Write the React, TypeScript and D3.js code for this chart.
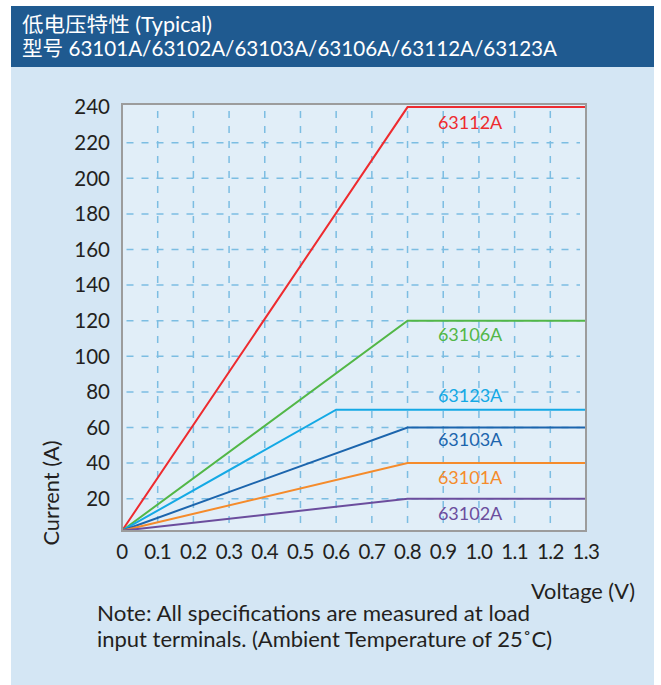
import React from "react";
import * as d3 from "d3";

// ---- Data ----
const titleLine1 = "低电压特性 (Typical)";
const titleLine2 = "型号 63101A/63102A/63103A/63106A/63112A/63123A";
const noteLines = [
  "Note: All specifications are measured at load",
  "input terminals. (Ambient Temperature of 25˚C)",
];
const xTicks = [0, 0.1, 0.2, 0.3, 0.4, 0.5, 0.6, 0.7, 0.8, 0.9, 1.0, 1.1, 1.2, 1.3];
const xTickLabels = ["0", "0.1", "0.2", "0.3", "0.4", "0.5", "0.6", "0.7", "0.8", "0.9", "1.0", "1.1", "1.2", "1.3"];
const yTicks = [20, 40, 60, 80, 100, 120, 140, 160, 180, 200, 220, 240];
const xGrid = [0.1, 0.2, 0.3, 0.4, 0.5, 0.6, 0.7, 0.8, 0.9, 1.0, 1.1, 1.2];
const yGrid = [20, 40, 60, 80, 100, 120, 140, 160, 180, 200, 220];

const seriesNames = ["63112A", "63106A", "63123A", "63103A", "63101A", "63102A"];
const series63112A: [number, number][] = [[0, 2], [0.8, 240], [1.3, 240]];
const series63106A: [number, number][] = [[0, 2], [0.8, 120], [1.3, 120]];
const series63123A: [number, number][] = [[0, 2], [0.6, 70], [1.3, 70]];
const series63103A: [number, number][] = [[0, 2], [0.8, 60], [1.3, 60]];
const series63101A: [number, number][] = [[0, 2], [0.8, 40], [1.3, 40]];
const series63102A: [number, number][] = [[0, 2], [0.8, 20], [1.3, 20]];
const seriesData = [series63112A, series63106A, series63123A, series63103A, series63101A, series63102A];

// ---- Styles ----
const seriesColors = ["#ee2b2f", "#52b747", "#14a9e5", "#1c65ad", "#f58b2b", "#6b4d9d"];
const labelDy = [22, 20, -8, 18, 20.5, 21];
const noteWidths = [433, 455];
const FONT = "Lato, 'Noto Sans', 'Noto Sans CJK SC', sans-serif";

export default function App() {
  const x = d3.scaleLinear().domain([0, 1.3]).range([122, 586]);
  const y = d3.scaleLinear().domain([0, 240]).range([534.3, 107.1]);
  const line = d3
    .line<[number, number]>()
    .x((d) => x(d[0]))
    .y((d) => y(d[1]));

  const plotLeft = 122;
  const plotRight = 586;
  const plotTop = 104;
  const plotBottom = 531;
  const labelX = x(0.885);

  return (
    <svg
      width={661}
      height={685}
      style={{ position: "absolute", left: 0, top: 0 }}
      xmlns="http://www.w3.org/2000/svg"
    >
      <rect x={0} y={0} width={661} height={685} fill="#ffffff" />
      <rect x={11} y={67} width={643} height={618} fill="#d4e6f4" />
      <rect x={11} y={6} width={643} height={61} fill="#1f5a90" />
      <text x={22} y={31.5} fill="#ffffff" fontSize={20.5} fontFamily={FONT} textLength={190} lengthAdjust="spacingAndGlyphs">
        {titleLine1}
      </text>
      <text x={22} y={55.5} fill="#ffffff" fontSize={20.5} fontFamily={FONT} textLength={535} lengthAdjust="spacingAndGlyphs">
        {titleLine2}
      </text>

      {/* plot background */}
      <rect
        x={plotLeft}
        y={plotTop}
        width={plotRight - plotLeft}
        height={plotBottom - plotTop}
        fill="#e1eef8"
      />

      {/* grid */}
      <g stroke="#7cbde2" strokeWidth={1.5} strokeDasharray="7 8" fill="none">
        {xGrid.map((v) => (
          <line key={"gx" + v} x1={x(v)} x2={x(v)} y1={y(240) + 4} y2={plotBottom} />
        ))}
        {yGrid.map((v) => (
          <line key={"gy" + v} x1={plotLeft + 4.5} x2={plotRight - 6} y1={y(v)} y2={y(v)} />
        ))}
      </g>

      {/* series */}
      {seriesData.map((d, i) => (
        <path
          key={seriesNames[i]}
          d={line(d) || ""}
          fill="none"
          stroke={seriesColors[i]}
          strokeWidth={2}
          strokeLinejoin="miter"
        />
      ))}

      {/* border */}
      <rect
        x={plotLeft}
        y={plotTop}
        width={plotRight - plotLeft}
        height={plotBottom - plotTop}
        fill="none"
        stroke="#9c9c9c"
        strokeWidth={2}
      />

      {/* series labels */}
      {seriesData.map((d, i) => (
        <text
          key={"lab" + seriesNames[i]}
          x={labelX}
          y={y(d[d.length - 1][1]) + labelDy[i]}
          fill={seriesColors[i]}
          fontSize={18}
          fontFamily={FONT}
        >
          {seriesNames[i]}
        </text>
      ))}

      {/* y ticks */}
      {yTicks.map((v) => (
        <text
          key={"yt" + v}
          x={110}
          y={y(v)}
          dy="0.36em"
          textAnchor="end"
          fill="#231f20"
          fontSize={20.5}
          fontFamily={FONT}
        >
          {v}
        </text>
      ))}

      {/* x ticks */}
      {xTicks.map((v, i) => (
        <text
          key={"xt" + v}
          x={x(v)}
          y={559}
          textAnchor="middle"
          fill="#231f20"
          fontSize={20.5}
          letterSpacing={-0.6}
          fontFamily={FONT}
        >
          {xTickLabels[i]}
        </text>
      ))}

      {/* axis titles */}
      <text
        transform="translate(59,493) rotate(-90)"
        textAnchor="middle"
        fill="#231f20"
        fontSize={21}
        fontFamily={FONT}
        textLength={105}
        lengthAdjust="spacingAndGlyphs"
      >
        Current (A)
      </text>
      <text x={531} y={599} fill="#231f20" fontSize={21} fontFamily={FONT} textLength={104} lengthAdjust="spacingAndGlyphs">
        Voltage (V)
      </text>

      {/* note */}
      {noteLines.map((t, i) => (
        <text
          key={"n" + i}
          x={97}
          y={620.5 + i * 26}
          fill="#231f20"
          fontSize={21}
          fontFamily={FONT}
          textLength={noteWidths[i]}
          lengthAdjust="spacingAndGlyphs"
        >
          {t}
        </text>
      ))}
    </svg>
  );
}
